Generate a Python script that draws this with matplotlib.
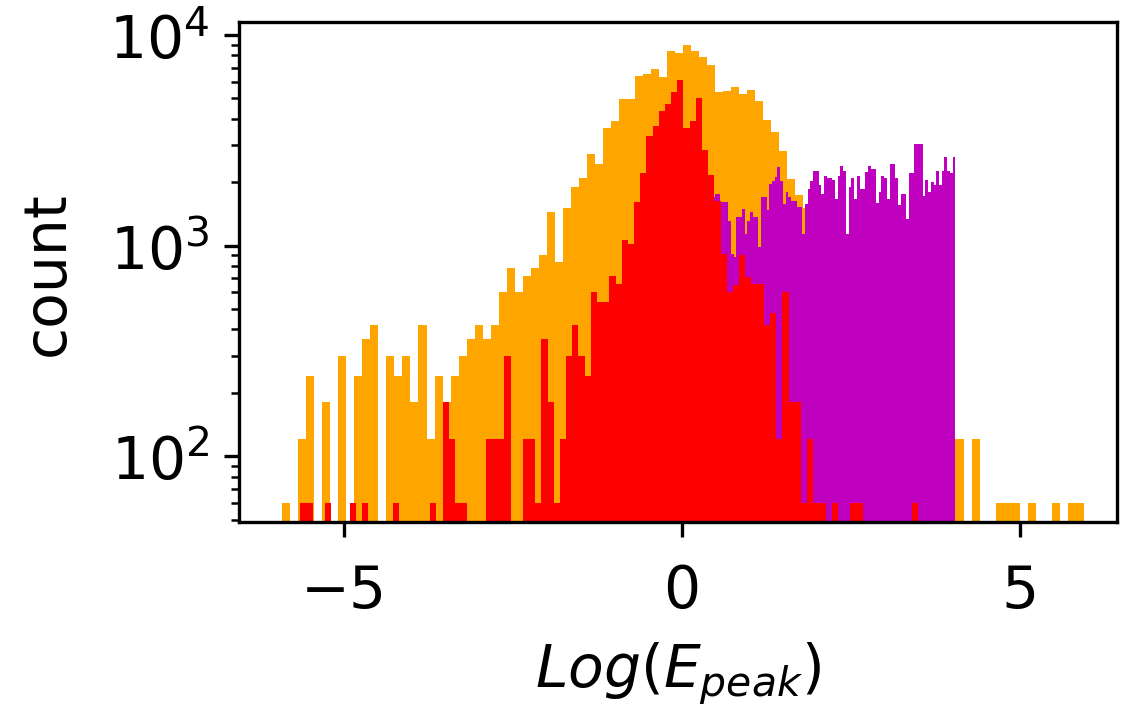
import numpy as np
import matplotlib
matplotlib.use('Agg')
import matplotlib.pyplot as plt

# bin edges of the three Log(E_peak) histograms
orange_edges = np.linspace(-5.91, 5.95, 101)
red_edges = np.linspace(-5.64, 3.50, 101)
magenta_edges = np.linspace(0.0, 4.05, 101)

# counts per bin
orange_counts = [
    60, 0, 120, 240, 0, 180, 0, 300, 0, 240,
    360, 420, 0, 300, 240, 300, 180, 420, 120, 240,
    180, 240, 300, 360, 420, 360, 420, 600, 780, 600,
    720, 780, 900, 1440, 840, 1500, 1890, 2090, 2710, 2430,
    3630, 3920, 4970, 4970, 6380, 6530, 6900, 6300, 8400, 8250,
    9000, 8400, 7850, 7200, 5350, 5450, 5650, 5250, 5490, 4880,
    3950, 3450, 2820, 2080, 1730, 1500, 1250, 1050, 900, 780,
    660, 560, 480, 420, 360, 300, 300, 240, 240, 180,
    180, 180, 120, 120, 120, 0, 120, 0, 0, 60,
    60, 60, 0, 60, 0, 0, 60, 0, 60, 60,
]
red_counts = [
    60, 60, 0, 0, 60, 0, 0, 0, 60, 0,
    60, 0, 0, 0, 0, 60, 0, 0, 0, 0,
    0, 60, 0, 180, 120, 60, 60, 0, 0, 0,
    120, 120, 120, 300, 0, 0, 120, 120, 60, 360,
    180, 60, 120, 300, 420, 300, 240, 600, 540, 540,
    720, 660, 1060, 1020, 1610, 2200, 3330, 3710, 4350, 4710,
    5350, 6110, 3600, 3920, 5000, 2830, 2170, 1620, 910, 600,
    650, 900, 710, 660, 660, 420, 480, 120, 600, 180,
    180, 60, 120, 60, 60, 0, 60, 0, 0, 60,
    60, 0, 0, 0, 0, 0, 0, 0, 0, 60,
]
magenta_counts = [
    1900, 1750, 2050, 1800, 1950, 1700, 2000, 1850, 1650, 1900,
    1800, 1700, 1760, 1760, 1610, 1610, 1610, 1310, 910, 880,
    1360, 1360, 1490, 1140, 1310, 1440, 1360, 1360, 980, 1700,
    1700, 1470, 1960, 2030, 2110, 2360, 2030, 1580, 1790, 1700,
    1630, 1630, 1520, 1520, 1140, 1580, 1860, 2030, 2270, 2270,
    1930, 1760, 2150, 2100, 2100, 2050, 1660, 2150, 2400, 2270,
    1140, 1890, 2100, 1660, 2150, 1860, 1860, 2240, 2400, 2300,
    2300, 1600, 1790, 2150, 2100, 1660, 2450, 2450, 2100, 1550,
    1760, 1760, 1340, 2200, 2200, 3040, 3040, 3040, 1720, 2050,
    1790, 2000, 1930, 2250, 1930, 2270, 2640, 2270, 2200, 2640,
]

plt.rcParams['font.size'] = 14

fig = plt.figure(figsize=(11.32 / 3, 7.06 / 3), dpi=300)
ax = fig.add_axes([0.2111, 0.2588, 0.7756, 0.7082])


def draw_hist(edges, counts, color):
    centers = (edges[:-1] + edges[1:]) / 2
    ax.hist(centers, bins=edges, weights=counts, color=color)


draw_hist(orange_edges, orange_counts, 'orange')
draw_hist(magenta_edges, magenta_counts, 'm')
draw_hist(red_edges, red_counts, 'red')

ax.set_yscale('log')
ax.set_xlim(-6.55, 6.44)
ax.set_ylim(48.5, 11490)
ax.set_xticks([-5, 0, 5])
ax.tick_params(axis='x', pad=6)
ax.set_xlabel('$Log(E_{peak})$', labelpad=5)
ax.set_ylabel('count', labelpad=8)

fig.savefig('out.png', dpi=300)
